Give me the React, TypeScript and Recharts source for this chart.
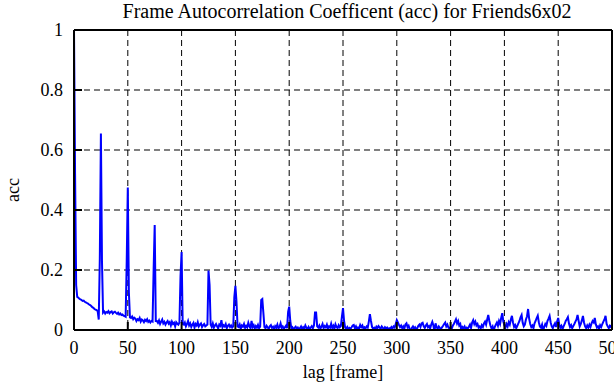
import { LineChart, Line, XAxis, YAxis, CartesianGrid, ReferenceLine } from 'recharts';

const TITLE = 'Frame Autocorrelation Coefficent (acc) for Friends6x02';
const X_LABEL = 'lag [frame]';
const Y_LABEL = 'acc';

const X_TICKS = [0, 50, 100, 150, 200, 250, 300, 350, 400, 450, 500];
const Y_TICKS = [0, 0.2, 0.4, 0.6, 0.8, 1];

// acc values, one array per 25 lags
const ACC_000 = [1.0, 0.52, 0.15, 0.11, 0.108, 0.104, 0.102, 0.1, 0.097, 0.098, 0.094, 0.092, 0.09, 0.088, 0.085, 0.083, 0.08, 0.076, 0.074, 0.07, 0.068, 0.066, 0.063, 0.035, 0.24];
const ACC_025 = [0.655, 0.23, 0.058, 0.062, 0.055, 0.06, 0.058, 0.063, 0.056, 0.06, 0.062, 0.055, 0.059, 0.061, 0.057, 0.054, 0.058, 0.052, 0.055, 0.05, 0.052, 0.048, 0.046, 0.044, 0.23];
const ACC_050 = [0.475, 0.125, 0.042, 0.04, 0.045, 0.036, 0.041, 0.038, 0.03, 0.036, 0.033, 0.04, 0.028, 0.035, 0.032, 0.026, 0.034, 0.03, 0.036, 0.027, 0.031, 0.025, 0.03, 0.028, 0.2];
const ACC_075 = [0.35, 0.03, 0.03, 0.024, 0.032, 0.02, 0.028, 0.035, 0.022, 0.027, 0.018, 0.025, 0.03, 0.021, 0.026, 0.015, 0.028, 0.02, 0.024, 0.012, 0.026, 0.021, 0.018, 0.025, 0.18];
const ACC_100 = [0.26, 0.02, 0.018, 0.025, 0.012, 0.02, 0.03, 0.015, 0.022, 0.01, 0.018, 0.024, 0.008, 0.02, 0.015, 0.026, 0.012, 0.018, 0.022, 0.01, 0.016, 0.02, 0.012, 0.015, 0.018];
const ACC_125 = [0.198, 0.15, 0.018, 0.01, 0.022, 0.008, 0.015, 0.02, 0.012, 0.005, 0.018, 0.014, 0.033, 0.009, 0.016, 0.012, 0.02, 0.006, 0.014, 0.018, 0.01, 0.015, 0.008, 0.012, 0.11];
const ACC_150 = [0.147, 0.095, 0.012, 0.01, 0.018, 0.004, 0.015, 0.011, 0.02, 0.007, 0.014, 0.009, 0.024, 0.012, 0.006, 0.03, 0.01, 0.016, 0.005, 0.013, 0.008, 0.017, 0.006, 0.011, 0.1];
const ACC_175 = [0.103, 0.057, 0.01, 0.006, 0.014, 0.009, 0.004, 0.012, 0.016, 0.007, 0.011, 0.003, 0.013, 0.008, 0.018, 0.005, 0.01, 0.022, 0.007, 0.012, 0.004, 0.009, 0.014, 0.006, 0.06];
const ACC_200 = [0.078, 0.03, 0.005, 0.009, 0.002, 0.007, 0.011, 0.004, 0.008, 0.001, 0.006, 0.012, 0.003, 0.009, 0.005, 0.015, 0.007, 0.002, 0.01, 0.004, 0.008, 0.013, 0.006, 0.015, 0.058];
const ACC_225 = [0.058, 0.012, 0.008, 0.015, 0.004, 0.011, 0.02, 0.006, 0.013, 0.009, 0.018, 0.005, 0.012, 0.008, 0.021, 0.007, 0.014, 0.004, 0.019, 0.01, 0.006, 0.016, 0.009, 0.013, 0.045];
const ACC_250 = [0.073, 0.03, 0.008, 0.005, 0.01, 0.003, 0.007, 0.004, 0.009, 0.015, 0.017, 0.006, 0.012, 0.002, 0.008, 0.005, 0.017, 0.01, 0.015, 0.004, 0.009, 0.006, 0.012, 0.008, 0.028];
const ACC_275 = [0.053, 0.03, 0.01, 0.005, 0.008, 0.003, 0.011, 0.006, 0.013, 0.009, 0.004, 0.012, 0.007, 0.003, 0.009, 0.005, 0.008, 0.002, 0.006, 0.004, 0.01, 0.005, 0.012, 0.008, 0.02];
const ACC_300 = [0.033, 0.025, 0.017, 0.01, 0.015, 0.006, 0.012, 0.004, 0.018, 0.022, 0.009, 0.014, 0.003, -0.008, 0.007, 0.012, 0.005, 0.009, 0.002, 0.006, 0.014, 0.018, 0.01, 0.022, 0.024];
const ACC_325 = [0.012, 0.007, 0.015, 0.02, 0.009, 0.013, 0.005, 0.018, 0.027, 0.015, -0.006, 0.022, 0.01, 0.004, 0.012, 0.007, 0.003, 0.009, 0.014, 0.02, 0.025, 0.012, 0.018, 0.008, 0.005];
const ACC_350 = [0.01, 0.004, 0.014, 0.02, 0.028, 0.036, 0.022, 0.03, 0.015, 0.02, -0.004, 0.01, 0.006, 0.012, 0.003, 0.008, 0.005, 0.011, 0.018, 0.007, 0.025, 0.033, 0.02, 0.028, 0.015];
const ACC_375 = [0.02, 0.008, 0.012, 0.005, 0.016, 0.01, 0.022, 0.028, 0.018, 0.035, 0.05, 0.03, 0.015, 0.006, 0.012, -0.004, 0.01, 0.018, 0.025, 0.014, 0.03, 0.02, 0.04, 0.056, 0.028];
const ACC_400 = [0.015, 0.008, 0.02, 0.012, 0.026, 0.018, 0.035, 0.047, 0.025, 0.01, 0.016, 0.006, 0.014, 0.022, 0.03, 0.042, 0.05, 0.024, 0.012, 0.018, 0.035, 0.045, 0.07, 0.038, 0.02];
const ACC_425 = [0.01, 0.015, 0.006, 0.022, 0.03, 0.04, 0.048, 0.026, 0.012, 0.008, 0.018, -0.002, 0.01, 0.02, 0.014, 0.03, 0.038, 0.047, 0.025, 0.012, 0.006, 0.015, 0.022, 0.01, 0.028];
const ACC_450 = [0.04, 0.018, 0.008, 0.014, 0.003, 0.012, 0.02, 0.03, 0.036, 0.043, 0.022, 0.01, 0.016, 0.006, 0.013, 0.02, 0.028, 0.035, 0.05, 0.03, 0.012, 0.02, 0.032, 0.047, 0.025];
const ACC_475 = [0.012, 0.006, 0.015, 0.008, 0.018, 0.01, 0.022, 0.03, 0.025, 0.04, 0.018, 0.008, 0.012, 0.004, 0.016, 0.01, 0.02, 0.028, 0.035, 0.047, 0.02, 0.012, 0.006, 0.014, 0.01, 0.018];

const BLOCKS: [number, number[]][] = [
  [0, ACC_000], [25, ACC_025], [50, ACC_050], [75, ACC_075], [100, ACC_100],
  [125, ACC_125], [150, ACC_150], [175, ACC_175], [200, ACC_200], [225, ACC_225],
  [250, ACC_250], [275, ACC_275], [300, ACC_300], [325, ACC_325], [350, ACC_350],
  [375, ACC_375], [400, ACC_400], [425, ACC_425], [450, ACC_450], [475, ACC_475],
];

const data = BLOCKS.flatMap(([start, vals]) => vals.map((v, i) => ({ lag: start + i, acc: v })));

const FONT = '"Liberation Serif", "DejaVu Serif", serif';
const tickStyle = { fontSize: 18, fill: '#000', fontFamily: FONT };
const labelStyle = { fontSize: 18, fill: '#000', fontFamily: FONT };

export default function App() {
  return (
    <div style={{ position: 'absolute', left: 0, top: 0, width: 614, height: 385, overflow: 'hidden', background: '#fff' }}>
      <div
        style={{
          position: 'absolute',
          left: 78,
          width: 538,
          top: 0,
          textAlign: 'center',
          fontFamily: FONT,
          fontSize: 20,
          whiteSpace: 'nowrap',
        }}
      >
        {TITLE}
      </div>
      <LineChart width={640} height={385} data={data} margin={{ top: 30, right: 28, left: 0, bottom: 0 }}>
        <CartesianGrid stroke="#000" strokeDasharray="6 4" strokeWidth={1} />
        <XAxis
          dataKey="lag"
          type="number"
          domain={[0, 500]}
          ticks={X_TICKS}
          allowDataOverflow
          height={55}
          stroke="#000"
          strokeWidth={2}
          tickSize={-8}
          tickMargin={19}
          tick={tickStyle}
          interval={0}
          label={{ value: X_LABEL, position: 'insideBottom', offset: 7, style: labelStyle }}
        />
        <YAxis
          type="number"
          domain={[0, 1]}
          ticks={Y_TICKS}
          allowDataOverflow
          width={74}
          stroke="#000"
          strokeWidth={2}
          tickSize={-8}
          tickMargin={19}
          tick={tickStyle}
          interval={0}
          label={{
            content: () => (
              <text x={13} y={190} transform="rotate(-90 13 190)" textAnchor="middle" dominantBaseline="central" style={labelStyle}>
                {Y_LABEL}
              </text>
            ),
          }}
        />
        <ReferenceLine y={1} stroke="#000" strokeWidth={2} />
        <ReferenceLine x={500} stroke="#000" strokeWidth={2} />
        <Line
          type="linear"
          dataKey="acc"
          stroke="#0000ff"
          strokeWidth={2}
          dot={false}
          isAnimationActive={false}
        />
      </LineChart>
    </div>
  );
}
